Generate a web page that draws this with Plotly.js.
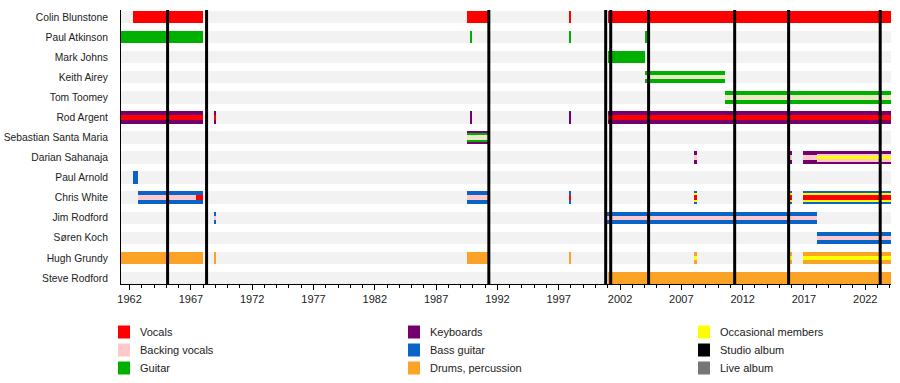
<!DOCTYPE html>
<html>
<head>
<meta charset="utf-8">
<script src="https://cdn.plot.ly/plotly-3.0.1.min.js"></script>
<style>html,body{margin:0;padding:0;background:#fff;}#chart{width:900px;height:383px;}</style>
</head>
<body>
<div id="chart"></div>
<script>
// ---------- DATA ----------
const members = ['Colin Blunstone', 'Paul Atkinson', 'Mark Johns', 'Keith Airey', 'Tom Toomey',
  'Rod Argent', 'Sebastian Santa Maria', 'Darian Sahanaja', 'Paul Arnold', 'Chris White',
  'Jim Rodford', 'Søren Koch', 'Hugh Grundy', 'Steve Rodford'];
const startYear = 1961.3;
const endYear = 2024.1;
const tickYears = [1962, 1967, 1972, 1977, 1982, 1987, 1992, 1997, 2002, 2007, 2012, 2017, 2022];
const studioAlbums = [1965.1, 1968.28, 1991.3, 2000.83, 2001.24, 2004.33, 2011.35, 2015.75, 2023.22];
const liveAlbums = [];

// segments: [memberIndex, start, end]
// outer (full-height) bars
const vocalsOuter = [[0, 1962.27, 1968.0], [0, 1989.5, 1991.3], [0, 1997.82, 1997.98], [0, 2001.0, 2024.1]];
const guitarOuter = [[1, 1961.3, 1968.0], [1, 1989.77, 1989.93], [1, 1997.82, 1997.98], [1, 2004.0, 2004.3],
  [2, 2001.0, 2004.05], [3, 2004.05, 2010.6], [4, 2010.6, 2024.1]];
const keyboardsOuter = [[5, 1961.3, 1968.0], [5, 1968.9, 1969.08], [5, 1989.77, 1989.93], [5, 1997.82, 1997.98],
  [5, 2001.0, 2024.1], [6, 1989.5, 1991.3], [7, 2008.07, 2008.25], [7, 2015.86, 2016.02], [7, 2016.95, 2024.1]];
const bassOuter = [[8, 1962.27, 1962.65], [9, 1962.65, 1968.0], [9, 1989.5, 1991.3], [9, 1997.82, 1997.98],
  [9, 2008.07, 2008.25], [9, 2015.86, 2016.02], [9, 2016.95, 2024.1], [10, 1968.9, 1969.08],
  [10, 2000.95, 2018.05], [11, 2018.05, 2024.1]];
const drumsOuter = [[12, 1961.3, 1968.0], [12, 1968.9, 1969.08], [12, 1989.5, 1991.3], [12, 1997.82, 1997.98],
  [12, 2008.07, 2008.25], [12, 2015.86, 2016.02], [12, 2016.95, 2024.1], [13, 2001.0, 2024.1]];
// middle stripes
const guitarMiddle = [[6, 1989.5, 1991.3]];
const occasionalMiddle = [[9, 2008.07, 2008.25], [9, 2015.86, 2016.02], [9, 2016.95, 2024.1]];
const backingMiddle = [[7, 2018.05, 2024.1]];
// inner stripes
const vocalsInner = [[5, 1961.3, 1968.0], [5, 1968.9, 1969.08], [5, 2001.0, 2024.1],
  [9, 1967.4, 1968.0], [9, 1997.82, 1997.98], [9, 2008.07, 2008.25], [9, 2015.86, 2016.02], [9, 2016.95, 2024.1]];
const backingInner = [[9, 1962.65, 1967.4], [9, 1989.5, 1991.3], [10, 1968.9, 1969.08], [10, 2000.95, 2018.05],
  [11, 2018.05, 2024.1], [7, 2008.07, 2008.25], [7, 2015.86, 2016.02], [7, 2016.95, 2018.05]];
const backingGuitarInner = [[3, 2004.05, 2010.6], [4, 2010.6, 2024.1], [6, 1989.5, 1991.3]];
const occasionalInner = [[12, 2008.07, 2008.25], [12, 2015.86, 2016.02], [12, 2016.95, 2024.1], [7, 2018.05, 2024.1]];

const legendLabels = [['Vocals', 'Backing vocals', 'Guitar'], ['Keyboards', 'Bass guitar', 'Drums, percussion'],
  ['Occasional members', 'Studio album', 'Live album']];

// ---------- STYLE ----------
const C = {
  vocals: '#ff0000', backing: '#ffc8cc', guitar: '#00b000', keyboards: '#74006f', bass: '#0a64c8',
  drums: '#fba326', occasional: '#ffff00', studio: '#000000', live: '#777777', band: '#f2f2f2',
  backingGuitar: '#ebe8c6'
};
const legendColors = [[C.vocals, C.backing, C.guitar], [C.keyboards, C.bass, C.drums], [C.occasional, C.studio, C.live]];

const OUTER = 0.62, MIDDLE = 0.42, INNER = 0.22;

function bars(segs, color, width) {
  return {
    type: 'bar', orientation: 'h',
    y: segs.map(s => s[0]),
    base: segs.map(s => s[1]),
    x: segs.map(s => s[2] - s[1]),
    width: width,
    marker: {color: color, line: {width: 0}},
    hoverinfo: 'skip', showlegend: false
  };
}

const bandSegs = members.map((m, i) => [i, startYear, endYear]);

const traces = [
  bars(bandSegs, C.band, OUTER),
  bars(vocalsOuter, C.vocals, OUTER),
  bars(guitarOuter, C.guitar, OUTER),
  bars(keyboardsOuter, C.keyboards, OUTER),
  bars(bassOuter, C.bass, OUTER),
  bars(drumsOuter, C.drums, OUTER),
  bars(guitarMiddle, C.guitar, MIDDLE),
  bars(occasionalMiddle, C.occasional, MIDDLE),
  bars(backingMiddle, C.backing, 0.4),
  bars(vocalsInner, C.vocals, INNER),
  bars(backingInner, C.backing, INNER),
  bars(backingGuitarInner, C.backingGuitar, INNER),
  bars(occasionalInner, C.occasional, 0.18)
];

// plot geometry in pixels (for legend placement)
const L = 121, R = 891, T = 10, B = 284;
const px = x => (x - L) / (R - L);
const py = y => (B - y) / (B - T);

const shapes = [];
studioAlbums.forEach(a => shapes.push({type: 'line', xref: 'x', yref: 'paper', x0: a, x1: a, y0: 0, y1: 1,
  line: {color: C.studio, width: 3}, layer: 'above'}));
liveAlbums.forEach(a => shapes.push({type: 'line', xref: 'x', yref: 'paper', x0: a, x1: a, y0: 0, y1: 1,
  line: {color: C.live, width: 3}, layer: 'above'}));

const annotations = [];
const colX = [118, 408, 698];
const rowY = [332, 350, 368];
legendLabels.forEach((col, ci) => {
  col.forEach((lab, ri) => {
    shapes.push({type: 'rect', xref: 'paper', yref: 'paper',
      x0: px(colX[ci]), x1: px(colX[ci] + 12), y0: py(rowY[ri] - 6.5), y1: py(rowY[ri] + 6.5),
      fillcolor: legendColors[ci][ri], line: {width: 0}});
    annotations.push({xref: 'paper', yref: 'paper', x: px(colX[ci] + 20), y: py(rowY[ri]),
      xanchor: 'left', yanchor: 'middle', text: lab, showarrow: false,
      font: {size: 11, color: '#222'}});
  });
});

const layout = {
  width: 900, height: 383,
  margin: {l: L, r: 900 - R, t: T, b: 383 - B, pad: 0},
  paper_bgcolor: '#fff', plot_bgcolor: '#fff',
  font: {family: 'Liberation Sans, Arial, sans-serif', size: 11, color: '#222'},
  barmode: 'overlay',
  bargap: 0,
  xaxis: {
    range: [startYear, endYear], tickmode: 'array', tickvals: tickYears, ticktext: tickYears.map(String),
    ticks: 'outside', ticklen: 5, tickcolor: '#000', tickwidth: 1,
    showline: true, linecolor: '#000', linewidth: 1, showgrid: false, zeroline: false,
    minor: {tickmode: 'linear', tick0: 1962, dtick: 1, ticks: 'outside', ticklen: 3, tickcolor: '#000', showgrid: false},
    tickfont: {size: 11, color: '#222'}
  },
  yaxis: {
    range: [13.3, -0.35], tickmode: 'array', tickvals: members.map((m, i) => i), ticktext: members,
    ticks: '', showline: true, linecolor: '#000', linewidth: 1, showgrid: false, zeroline: false,
    ticklabelstandoff: 10, tickfont: {size: 10.3, color: '#222'}
  },
  shapes: shapes,
  annotations: annotations
};

Plotly.newPlot('chart', traces, layout, {displayModeBar: false, staticPlot: true});
</script>
</body>
</html>
